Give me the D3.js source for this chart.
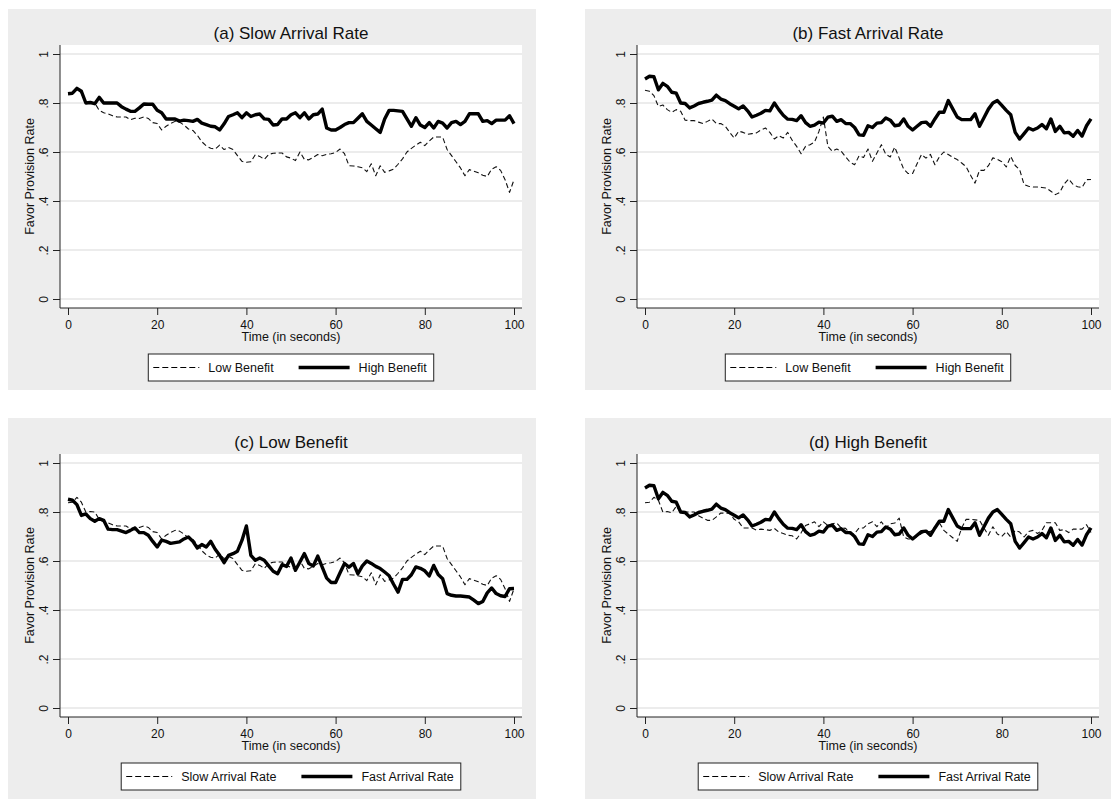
<!DOCTYPE html>
<html>
<head>
<meta charset="utf-8">
<script src="https://cdn.jsdelivr.net/npm/d3@7/dist/d3.min.js"></script>
<style>
  body { margin: 0; background: #ffffff; }
  svg { display: block; }
  text { font-family: Arial, "Liberation Sans", Helvetica, sans-serif; fill: #111; }
</style>
</head>
<body>
<svg id="chart" width="1111" height="802"></svg>
<script>
// Seconds since the start of the round
const seconds = d3.range(0, 101);

// Share of favors provided at each second, by arrival rate and benefit level
const slowLow = [
  .838, .840, .860, .840, .800, .802, .800, .770, .760, .756,
  .748, .743, .743, .743, .732, .738, .737, .743, .737, .720,
  .716, .690, .705, .716, .725, .722, .710, .694, .688, .668,
  .642, .625, .615, .612, .628, .610, .618, .610, .585, .562,
  .558, .560, .589, .582, .570, .590, .595, .596, .596, .580,
  .575, .565, .600, .570, .568, .578, .590, .585, .590, .593,
  .598, .612, .593, .544, .543, .540, .536, .520, .552, .503,
  .544, .517, .523, .530, .550, .572, .600, .615, .628, .640,
  .626, .645, .661, .661, .661, .610, .585, .560, .535, .503,
  .528, .522, .515, .505, .500, .530, .540, .525, .487, .435,
  .487
];
const slowHigh = [
  .838, .840, .860, .848, .800, .802, .797, .823, .800, .800,
  .800, .800, .785, .775, .766, .766, .780, .796, .795, .795,
  .770, .760, .735, .735, .735, .726, .730, .728, .725, .733,
  .718, .712, .705, .703, .690, .715, .745, .752, .760, .740,
  .760, .745, .752, .755, .735, .733, .710, .712, .735, .735,
  .752, .760, .740, .760, .735, .752, .755, .775, .698, .690,
  .690, .700, .712, .720, .720, .738, .756, .725, .710, .695,
  .680, .735, .770, .770, .768, .766, .735, .705, .740, .710,
  .700, .720, .698, .725, .718, .698, .720, .725, .712, .725,
  .756, .756, .756, .725, .728, .716, .730, .730, .730, .748,
  .716
];
const fastLow = [
  .852, .848, .830, .786, .792, .773, .762, .773, .766, .730,
  .728, .728, .722, .716, .725, .735, .716, .716, .705, .680,
  .657, .685, .680, .672, .675, .678, .690, .698, .680, .653,
  .667, .657, .680, .648, .623, .593, .623, .630, .640, .684,
  .743, .623, .603, .612, .603, .580, .558, .548, .585, .578,
  .612, .562, .596, .630, .590, .580, .620, .575, .530, .512,
  .512, .552, .590, .575, .590, .548, .580, .600, .590, .578,
  .569, .555, .540, .505, .473, .525, .525, .544, .576, .570,
  .560, .539, .582, .545, .528, .467, .460, .457, .457, .455,
  .453, .440, .426, .435, .470, .490, .467, .458, .455, .487,
  .488
];
const fastHigh = [
  .898, .909, .907, .854, .880, .868, .844, .840, .800, .798,
  .780, .788, .798, .803, .807, .812, .832, .816, .810, .797,
  .787, .776, .788, .768, .743, .750, .758, .770, .768, .800,
  .773, .750, .734, .733, .728, .748, .720, .705, .710, .722,
  .718, .742, .746, .725, .732, .716, .716, .700, .670, .668,
  .707, .700, .718, .720, .739, .730, .707, .710, .735, .705,
  .690, .705, .720, .722, .705, .735, .762, .762, .810, .776,
  .743, .732, .732, .732, .756, .705, .740, .775, .800, .810,
  .790, .770, .752, .680, .653, .675, .698, .690, .698, .712,
  .695, .735, .684, .705, .678, .680, .664, .688, .665, .707,
  .735
];

// Axis ticks and labels
const xTicks = [0, 20, 40, 60, 80, 100];
const yTicks = [0, 0.2, 0.4, 0.6, 0.8, 1];
const yTickLabels = ["0", ".2", ".4", ".6", ".8", "1"];

const panelTitles = ["(a) Slow Arrival Rate", "(b) Fast Arrival Rate", "(c) Low Benefit", "(d) High Benefit"];
const benefitLegend = ["Low Benefit", "High Benefit"];
const arrivalLegend = ["Slow Arrival Rate", "Fast Arrival Rate"];
const xTitle = "Time (in seconds)";
const yTitle = "Favor Provision Rate";

const panels = [
  { title: panelTitles[0], dashed: slowLow, solid: slowHigh, legend: benefitLegend, ox: 0,   oy: 0 },
  { title: panelTitles[1], dashed: fastLow, solid: fastHigh, legend: benefitLegend, ox: 577, oy: 0 },
  { title: panelTitles[2], dashed: slowLow, solid: fastLow,  legend: arrivalLegend, ox: 0,   oy: 409 },
  { title: panelTitles[3], dashed: slowHigh, solid: fastHigh, legend: arrivalLegend, ox: 577, oy: 409 }
];

const svg = d3.select("#chart");

// Shared geometry of one sub-graph (relative to its own origin)
const plot = { left: 60, right: 522, top: 45, bottom: 308 };
const x = d3.scaleLinear().domain([0, 100]).range([68, 514]);
const y = d3.scaleLinear().domain([0, 1]).range([299, 54]);
const DASH = "5,3";

panels.forEach(p => {
  const g = svg.append("g").attr("transform", `translate(${p.ox},${p.oy})`);

  // graph region and plot region
  g.append("rect").attr("x", 8).attr("y", 9).attr("width", 528).attr("height", 381).attr("fill", "#ededed");
  g.append("rect").attr("x", plot.left).attr("y", plot.top)
    .attr("width", plot.right - plot.left).attr("height", plot.bottom - plot.top).attr("fill", "#ffffff");

  // horizontal grid
  g.append("g").selectAll("line").data(yTicks).join("line")
    .attr("x1", plot.left).attr("x2", plot.right)
    .attr("y1", d => y(d)).attr("y2", d => y(d))
    .attr("stroke", "#e6e6e6").attr("stroke-width", 1.5);

  // title
  g.append("text").attr("x", (plot.left + plot.right) / 2).attr("y", 39)
    .attr("text-anchor", "middle").attr("font-size", 17).text(p.title);

  // x axis
  const xAxis = g.append("g").attr("transform", `translate(0,${plot.bottom})`)
    .call(d3.axisBottom(x).tickValues(xTicks).tickSize(7).tickPadding(5).tickFormat(d3.format("d")));
  xAxis.select(".domain").attr("d", `M${plot.left},0H${plot.right}`).attr("stroke", "#222");
  xAxis.selectAll(".tick line").attr("stroke", "#222");
  xAxis.selectAll(".tick text").attr("font-size", 12).attr("fill", "#111")
    .attr("font-family", "Arial, 'Liberation Sans', sans-serif");

  // y axis
  const yAxis = g.append("g").attr("transform", `translate(${plot.left},0)`)
    .call(d3.axisLeft(y).tickValues(yTicks).tickSize(7).tickFormat((d, i) => yTickLabels[i]));
  yAxis.select(".domain").attr("d", `M0,${plot.top}V${plot.bottom}`).attr("stroke", "#222");
  yAxis.selectAll(".tick line").attr("stroke", "#222");
  yAxis.selectAll(".tick text")
    .attr("x", null).attr("dy", null).attr("text-anchor", "middle")
    .attr("transform", "translate(-12,0) rotate(-90)")
    .attr("font-size", 12).attr("fill", "#111")
    .attr("font-family", "Arial, 'Liberation Sans', sans-serif");

  // axis titles
  g.append("text").attr("x", (plot.left + plot.right) / 2).attr("y", 341)
    .attr("text-anchor", "middle").attr("font-size", 12.5).text(xTitle);
  g.append("text").attr("transform", `translate(34,${(plot.top + plot.bottom) / 2}) rotate(-90)`)
    .attr("text-anchor", "middle").attr("font-size", 12.5).text(yTitle);

  // series
  const line = d3.line().x((d, i) => x(seconds[i])).y(d => y(d));
  g.append("path").datum(p.dashed).attr("d", line)
    .attr("fill", "none").attr("stroke", "#111").attr("stroke-width", 1.1)
    .attr("stroke-dasharray", DASH).attr("stroke-linejoin", "round");
  g.append("path").datum(p.solid).attr("d", line)
    .attr("fill", "none").attr("stroke", "#000").attr("stroke-width", 3.4)
    .attr("stroke-linejoin", "round");

  // legend
  const lg = g.append("g");
  const box = lg.append("rect").attr("y", 354).attr("height", 27)
    .attr("fill", "#fff").attr("stroke", "#222").attr("stroke-width", 1);
  const ly = 367.5;
  let cx = 0;
  const items = [{ label: p.legend[0], dashed: true }, { label: p.legend[1], dashed: false }];
  const parts = [];
  items.forEach((it, k) => {
    if (k > 0) cx += 20;
    const ln = lg.append("line").attr("y1", ly).attr("y2", ly)
      .attr("stroke", "#000").attr("stroke-width", it.dashed ? 1.1 : 3.4)
      .attr("stroke-dasharray", it.dashed ? "6,3" : null);
    const sx = cx + 5;
    const len = it.dashed ? 46 : 51;
    cx = sx + len + 9;
    const t = lg.append("text").attr("y", ly + 4.5).attr("font-size", 12.5).text(it.label);
    const tw = t.node().getComputedTextLength();
    parts.push({ ln, t, sx, len, tx: cx });
    cx += tw;
  });
  const total = cx + 7;
  const x0 = (plot.left + plot.right) / 2 - total / 2;
  box.attr("x", x0).attr("width", total);
  parts.forEach(pt => {
    pt.ln.attr("x1", x0 + pt.sx).attr("x2", x0 + pt.sx + pt.len);
    pt.t.attr("x", x0 + pt.tx);
  });
});
</script>
</body>
</html>
